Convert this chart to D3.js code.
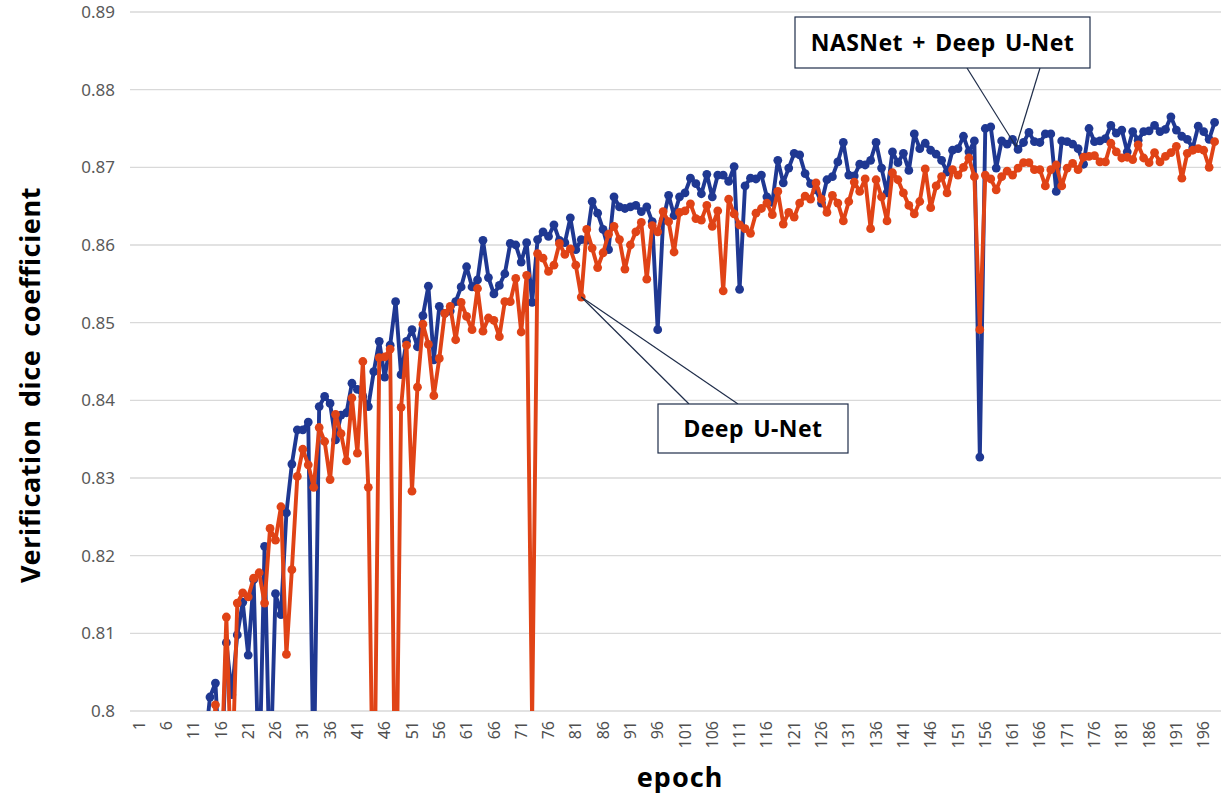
<!DOCTYPE html>
<html lang="en">
<head>
    <meta charset="UTF-8">
    <title>Verification dice coefficient by epoch</title>
    <style>
        body {
            margin: 0;
            background: #fff;
        }

        text {
            font-family: "Noto Sans", "DejaVu Sans", sans-serif;
        }

        .grid line {
            stroke: #d9d9d9;
            stroke-width: 1.3px;
        }

        .tick-label {
            font-size: 17px;
            fill: #595959;
        }

        .x-label {
            font-size: 16px;
            fill: #505050;
        }

        .axis-title {
            font-size: 27px;
            font-weight: bold;
            fill: #000;
        }

        .series {
            fill: none;
            stroke-width: 3.9px;
            stroke-linejoin: round;
        }

        .callout rect {
            fill: #fff;
            stroke: #1f2d4a;
            stroke-width: 1.2px;
        }

        .callout line {
            stroke: #1f2d4a;
            stroke-width: 1.2px;
        }

        .callout text {
            font-size: 23px;
            font-weight: bold;
            word-spacing: 3px;
            letter-spacing: 0.4px;
            fill: #000;
        }
    </style>
</head>
<body>
<svg width="1224" height="796"></svg>
<script src="https://d3js.org/d3.v7.min.js"></script>
<script>
    // epochs 1..198
    let epochs = d3.range(1, 199);

    // NASNet + Deep U-Net (values under 0.8 are clipped by the axis)
    let nasnetUnet = [
        0.55, 0.62, 0.66, 0.69, 0.71, 0.73, 0.745, 0.76, 0.77, 0.775,
        0.785, 0.79, 0.795, 0.8018, 0.8036, 0.790, 0.8088, 0.8021, 0.8098, 0.8140,
        0.8072, 0.8169, 0.790, 0.8212, 0.790, 0.8151, 0.8124, 0.8255, 0.8318, 0.8362,
        0.8362, 0.8372, 0.790, 0.8392, 0.8405, 0.8396, 0.8349, 0.8381, 0.8384, 0.8422,
        0.8414, 0.8405, 0.8392, 0.8437, 0.8476, 0.8430, 0.8471, 0.8527, 0.8433, 0.8476,
        0.8491, 0.8469, 0.8509, 0.8547, 0.8452, 0.8521, 0.8512, 0.8515, 0.8527, 0.8546,
        0.8572, 0.8546, 0.8555, 0.8606, 0.8558, 0.8537, 0.8548, 0.8563, 0.8602, 0.8600,
        0.8578, 0.8603, 0.8526, 0.8607, 0.8617, 0.8611, 0.8626, 0.8606, 0.8603, 0.8635,
        0.8594, 0.8607, 0.8606, 0.8656, 0.8641, 0.8620, 0.8594, 0.8662, 0.8649, 0.8647,
        0.8649, 0.8651, 0.8643, 0.8649, 0.8630, 0.8491, 0.8632, 0.8664, 0.8638, 0.8662,
        0.8667, 0.8686, 0.8679, 0.8666, 0.8691, 0.8662, 0.8690, 0.8690, 0.8682, 0.8701,
        0.8543, 0.8676, 0.8686, 0.8685, 0.8690, 0.8662, 0.8655, 0.8709, 0.8680, 0.8699,
        0.8718, 0.8716, 0.8692, 0.8679, 0.8671, 0.8654, 0.8684, 0.8688, 0.8707, 0.8732,
        0.8690, 0.8689, 0.8704, 0.8703, 0.8709, 0.8732, 0.8699, 0.8667, 0.8720, 0.8706,
        0.8718, 0.8696, 0.8743, 0.8724, 0.8731, 0.8722, 0.8717, 0.8709, 0.8694, 0.8722,
        0.8724, 0.8740, 0.8720, 0.8734, 0.8327, 0.8750, 0.8752, 0.8699, 0.8734, 0.8730,
        0.8736, 0.8723, 0.8732, 0.8745, 0.8733, 0.8732, 0.8743, 0.8743, 0.8669, 0.8734,
        0.8733, 0.8730, 0.8724, 0.8704, 0.8750, 0.8733, 0.8734, 0.8737, 0.8754, 0.8744,
        0.8748, 0.8720, 0.8746, 0.8735, 0.8746, 0.8747, 0.8754, 0.8746, 0.8749, 0.8765,
        0.8748, 0.8740, 0.8736, 0.8725, 0.8753, 0.8746, 0.8736, 0.8758
    ];

    // Deep U-Net
    let deepUnet = [
        0.52, 0.60, 0.64, 0.67, 0.70, 0.72, 0.735, 0.75, 0.76, 0.77,
        0.775, 0.78, 0.785, 0.790, 0.8008, 0.790, 0.8121, 0.790, 0.8139, 0.8152,
        0.8147, 0.8171, 0.8178, 0.8139, 0.8235, 0.8220, 0.8263, 0.8073, 0.8182, 0.8302,
        0.8337, 0.8317, 0.8288, 0.8365, 0.8347, 0.8298, 0.8382, 0.8357, 0.8322, 0.8403,
        0.8332, 0.8450, 0.8288, 0.780, 0.8455, 0.8456, 0.8466, 0.780, 0.8391, 0.8471,
        0.8283, 0.8417, 0.8498, 0.8472, 0.8406, 0.8454, 0.8512, 0.8521, 0.8478, 0.8526,
        0.8508, 0.8491, 0.8544, 0.8489, 0.8506, 0.8503, 0.8482, 0.8527, 0.8527, 0.8557,
        0.8488, 0.8561, 0.7985, 0.8589, 0.8583, 0.8566, 0.8574, 0.8602, 0.8588, 0.8595,
        0.8574, 0.8533, 0.8620, 0.8596, 0.8571, 0.8590, 0.8614, 0.8624, 0.8607, 0.8569,
        0.8600, 0.8617, 0.8629, 0.8556, 0.8625, 0.8617, 0.8643, 0.8630, 0.8591, 0.8642,
        0.8644, 0.8653, 0.8634, 0.8632, 0.8651, 0.8624, 0.8644, 0.8541, 0.8659, 0.8640,
        0.8626, 0.8621, 0.8615, 0.8641, 0.8647, 0.8654, 0.8639, 0.8669, 0.8627, 0.8642,
        0.8636, 0.8654, 0.8663, 0.8659, 0.8680, 0.8659, 0.8642, 0.8664, 0.8654, 0.8631,
        0.8656, 0.8681, 0.8669, 0.8685, 0.8621, 0.8684, 0.8662, 0.8631, 0.8693, 0.8684,
        0.8667, 0.8651, 0.8640, 0.8656, 0.8698, 0.8648, 0.8676, 0.8688, 0.8667, 0.8697,
        0.8690, 0.8700, 0.8712, 0.8688, 0.8491, 0.8690, 0.8685, 0.8671, 0.8688, 0.8695,
        0.8690, 0.8699, 0.8706, 0.8706, 0.8697, 0.8697, 0.8676, 0.8697, 0.8703, 0.8676,
        0.8699, 0.8705, 0.8697, 0.8713, 0.8714, 0.8715, 0.8707, 0.8707, 0.8731, 0.8720,
        0.8712, 0.8713, 0.8710, 0.8729, 0.8712, 0.8706, 0.8719, 0.8707, 0.8714, 0.8719,
        0.8727, 0.8686, 0.8718, 0.8722, 0.8724, 0.8722, 0.8700, 0.8733
    ];

    let yTicks = [0.80, 0.81, 0.82, 0.83, 0.84, 0.85, 0.86, 0.87, 0.88, 0.89];
    let yTickLabels = ["0.8", "0.81", "0.82", "0.83", "0.84", "0.85", "0.86", "0.87", "0.88", "0.89"];
    let xTickLabels = epochs.filter(function (e) { return (e - 1) % 5 === 0; });

    let seriesNames = ["NASNet + Deep U-Net", "Deep U-Net"];
    let seriesColors = ["#1f3892", "#e04316"];

    let svg = d3.select("svg"),
        plotLeft = 130, plotRight = 1221, plotTop = 12, plotBottom = 711;

    let x = d3.scalePoint()
        .domain(epochs)
        .range([139, 1214.6]);

    let y = d3.scaleLinear()
        .domain([0.80, 0.89])
        .range([plotBottom, plotTop]);

    svg.append("defs").append("clipPath")
        .attr("id", "plot-clip")
        .append("rect")
        .attr("x", plotLeft)
        .attr("y", 0)
        .attr("width", plotRight - plotLeft + 4)
        .attr("height", plotBottom);

    // horizontal gridlines
    let grid = svg.append("g").attr("class", "grid");
    grid.selectAll("line")
        .data(yTicks)
        .enter().append("line")
        .attr("x1", plotLeft)
        .attr("x2", plotRight)
        .attr("y1", function (d) { return y(d); })
        .attr("y2", function (d) { return y(d); });

    // y tick labels
    svg.append("g").selectAll("text")
        .data(yTicks)
        .enter().append("text")
        .attr("class", "tick-label")
        .attr("x", 115)
        .attr("y", function (d) { return y(d); })
        .attr("dy", "0.35em")
        .attr("text-anchor", "end")
        .text(function (d, i) { return yTickLabels[i]; });

    // x tick labels, rotated
    svg.append("g").selectAll("text")
        .data(xTickLabels)
        .enter().append("text")
        .attr("class", "x-label")
        .attr("text-anchor", "end")
        .attr("dy", "0.35em")
        .attr("transform", function (d) {
            return "translate(" + x(d) + "," + 721 + ") rotate(-90)";
        })
        .text(function (d) { return d; });

    // axis titles
    svg.append("text")
        .attr("class", "axis-title")
        .attr("text-anchor", "middle")
        .attr("letter-spacing", "0.6px")
        .attr("word-spacing", "5px")
        .attr("transform", "translate(40," + 385 + ") rotate(-90)")
        .text("Verification dice coefficient");

    svg.append("text")
        .attr("class", "axis-title")
        .attr("text-anchor", "middle")
        .attr("letter-spacing", "1px")
        .attr("x", 680)
        .attr("y", 787)
        .text("epoch");

    // series
    let plot = svg.append("g").attr("clip-path", "url(#plot-clip)");
    let line = d3.line()
        .x(function (d) { return x(d.epoch); })
        .y(function (d) { return y(d.value); });

    [nasnetUnet, deepUnet].forEach(function (values, k) {
        let pts = epochs.map(function (e, i) { return {epoch: e, value: values[i]}; });
        let g = plot.append("g");
        g.append("path")
            .datum(pts)
            .attr("class", "series")
            .attr("stroke", seriesColors[k])
            .attr("d", line);
        g.selectAll("circle")
            .data(pts.filter(function (d) { return d.value >= 0.8; }))
            .enter().append("circle")
            .attr("cx", function (d) { return x(d.epoch); })
            .attr("cy", function (d) { return y(d.value); })
            .attr("r", 4.4)
            .attr("fill", seriesColors[k]);
    });

    // callouts
    function callout(label, box, tip, feet) {
        let g = svg.append("g").attr("class", "callout");
        feet.forEach(function (f) {
            g.append("line")
                .attr("x1", tip[0]).attr("y1", tip[1])
                .attr("x2", f[0]).attr("y2", f[1]);
        });
        g.append("rect")
            .attr("x", box[0]).attr("y", box[1])
            .attr("width", box[2]).attr("height", box[3]);
        g.append("text")
            .attr("x", box[0] + box[2] / 2)
            .attr("y", box[1] + box[3] / 2)
            .attr("dy", "0.36em")
            .attr("text-anchor", "middle")
            .text(label);
    }

    // NASNet + Deep U-Net box points at epoch 162
    let tipBlue = [x(162) - 2, y(nasnetUnet[161]) - 3];
    callout(seriesNames[0], [795, 17, 295, 51], tipBlue, [[967, 68], [1040, 68]]);

    // Deep U-Net box points at epoch 82
    let tipOrange = [x(82), y(deepUnet[81])];
    callout(seriesNames[1], [658, 404, 190, 49], tipOrange, [[689, 404], [738, 404]]);
</script>
</body>
</html>
